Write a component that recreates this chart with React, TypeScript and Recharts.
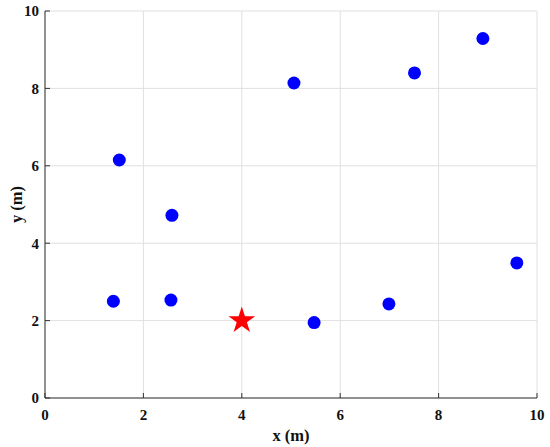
import React from 'react';
import {CartesianGrid, Scatter, ScatterChart, XAxis, YAxis} from 'recharts';

// anchor nodes (blue dots)
const anchorX = [1.39, 2.56, 1.51, 2.58, 5.47, 6.99, 9.59, 5.06, 7.51, 8.90];
const anchorY = [2.50, 2.53, 6.15, 4.72, 1.95, 2.43, 3.49, 8.14, 8.40, 9.29];
// target (red star)
const targetX = [4];
const targetY = [2];
const ticks = [0, 2, 4, 6, 8, 10];

const anchors = anchorX.map((x, i) => ({x, y: anchorY[i]}));
const target = targetX.map((x, i) => ({x, y: targetY[i]}));

const FONT = '"Liberation Serif", "Times New Roman", serif';
const AXIS = '#333333';
const tickStyle = {fill: '#111', fontFamily: FONT, fontSize: 15, fontWeight: 'bold'};

const Dot = (props: any) => <circle cx={props.cx} cy={props.cy} r={6.5} fill="#0000ff"/>;

const Star = (props: any) => {
    const pts = [];
    for (let i = 0; i < 10; i++) {
        const r = i % 2 === 0 ? 14 : 5.35;
        const a = -Math.PI / 2 + i * Math.PI / 5;
        pts.push(`${props.cx + r * Math.cos(a)},${props.cy + r * Math.sin(a)}`);
    }
    return <polygon points={pts.join(' ')} fill="#ff0000"/>;
};

const XLabel = ({viewBox}: any) => (
    <text x={viewBox.x + viewBox.width / 2} y={viewBox.y + 37} textAnchor="middle" dominantBaseline="central"
          fontFamily={FONT} fontSize={16.5} fontWeight="bold" fill="#111">x (m)</text>
);

const YLabel = ({viewBox}: any) => {
    const cx = viewBox.x + 16.5;
    const cy = viewBox.y + viewBox.height / 2;
    return (
        <text x={cx} y={cy} transform={`rotate(-90, ${cx}, ${cy})`} textAnchor="middle" dominantBaseline="central"
              fontFamily={FONT} fontSize={16.5} fontWeight="bold" fill="#111">y (m)</text>
    );
};

const App = () => {
    return (
        <div style={{position: 'absolute', left: 0, top: 0}}>
            <ScatterChart width={550} height={447} margin={{top: 11, right: 13, bottom: 0, left: 0}}>
                <CartesianGrid stroke="#e0e0e0"/>
                <XAxis dataKey="x" type="number" domain={[0, 10]} ticks={ticks} height={49}
                       tickSize={-5} tickMargin={16} tick={tickStyle}
                       axisLine={{stroke: AXIS}} tickLine={{stroke: AXIS}} label={{content: XLabel}}/>
                <XAxis xAxisId="top" orientation="top" type="number" domain={[0, 10]} ticks={ticks} height={0}
                       tickSize={-5} tick={false} axisLine={{stroke: AXIS}} tickLine={{stroke: AXIS}}/>
                <YAxis dataKey="y" type="number" domain={[0, 10]} ticks={ticks} width={45}
                       tickSize={-5} tickMargin={11} tick={tickStyle}
                       axisLine={{stroke: AXIS}} tickLine={{stroke: AXIS}} label={{content: YLabel}}/>
                <YAxis yAxisId="right" orientation="right" type="number" domain={[0, 10]} ticks={ticks} width={0}
                       tickSize={-5} tick={false} axisLine={{stroke: AXIS}} tickLine={{stroke: AXIS}}/>
                <Scatter data={anchors} shape={Dot} isAnimationActive={false}/>
                <Scatter data={target} shape={Star} isAnimationActive={false}/>
            </ScatterChart>
        </div>
    );
};

export default App;
